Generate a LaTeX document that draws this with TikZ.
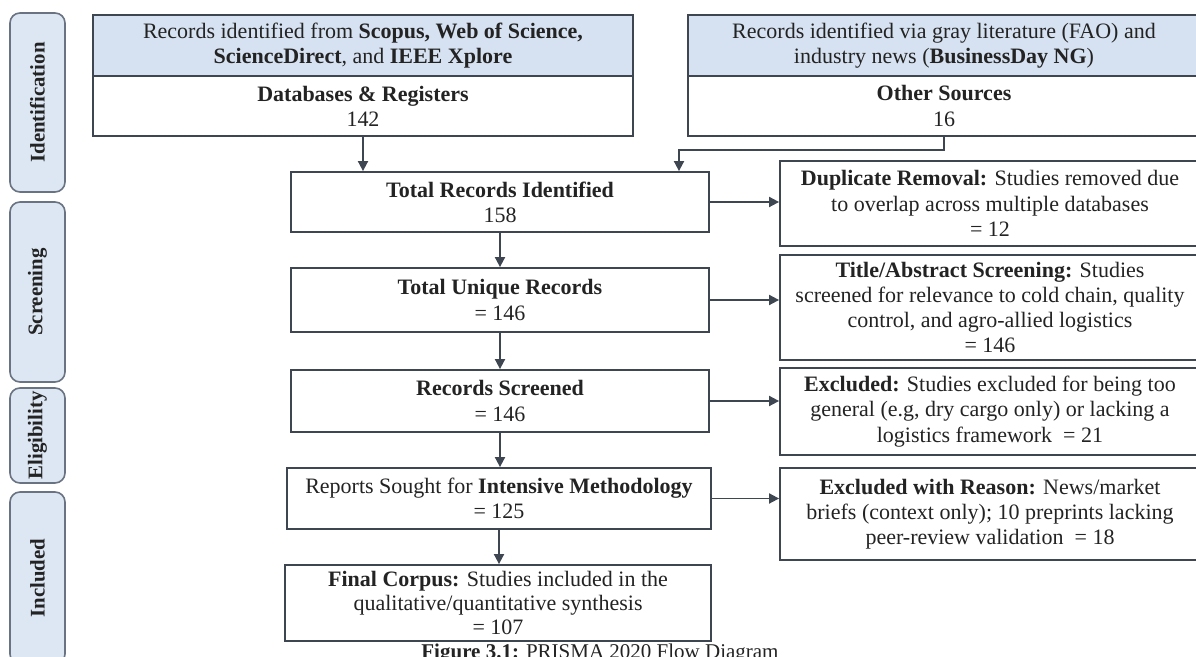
\documentclass[tikz,border=0pt]{standalone}
\usepackage{fontspec}
\setmainfont{Liberation Serif}
\usetikzlibrary{arrows.meta}

\definecolor{tabfill}{RGB}{221,231,243}
\definecolor{headfill}{RGB}{214,226,241}
\definecolor{boxline}{RGB}{62,70,82}
\definecolor{tabline}{RGB}{105,115,130}
\definecolor{inktext}{RGB}{35,35,35}

\begin{document}
\begin{tikzpicture}[x=0.5pt,y=0.5pt,yscale=-1,
  box/.style={draw=boxline,line width=0.9pt,fill=white,inner sep=0pt,align=center,text=inktext,font=\fontsize{11}{12.6}\selectfont},
  headbox/.style={box,fill=headfill},
  phase/.style={draw=tabline,line width=0.8pt,fill=tabfill,rounded corners=5pt,rotate=90,inner sep=0pt,text=inktext,font=\fontsize{10.4}{12}\selectfont\bfseries},
  arr/.style={draw=boxline,line width=0.9pt,-{Triangle[length=5pt,width=5pt]}}]
%set diagram frame: 1196 x 657
\useasboundingbox (0,0) rectangle (1196,657);
\clip (0,0) rectangle (1196,657);

%Phase tabs
\node[phase,minimum width=89.5pt,minimum height=27.5pt] (tabid) at (37.5,102.5) {Identification};
\node[phase,minimum width=90pt,minimum height=27.5pt] (tabscr) at (37.5,292) {Screening};
\node[phase,minimum width=47.5pt,minimum height=27.5pt] (tabelig) at (37.5,435.5) {Eligibility};
\node[phase,minimum width=86pt,minimum height=27.5pt] (tabincl) at (37.5,578) {Included};

%Sources
\node[headbox,minimum width=270pt,minimum height=30.5pt] (dbhead) at (363,45.5) {Records identified from \textbf{Scopus, Web of Science,}\\\textbf{ScienceDirect}, and \textbf{IEEE Xplore}};
\node[box,minimum width=270pt,minimum height=30pt] (dbbody) at (363,106) {\textbf{Databases \& Registers}\\142};
\node[headbox,minimum width=256pt,minimum height=30.5pt] (othhead) at (944,45.5) {Records identified via gray literature (FAO) and\\industry news (\textbf{BusinessDay NG})};
\node[box,minimum width=256pt,minimum height=30pt] (othbody) at (944,106) {\textbf{Other Sources}\\16};

%Main column
\node[box,minimum width=209pt,minimum height=30pt] (total) at (500,202) {\textbf{Total Records Identified}\\158};
\node[box,minimum width=209pt,minimum height=32pt] (uniq) at (500,300) {\textbf{Total Unique Records}\\= 146};
\node[box,minimum width=209pt,minimum height=31pt] (screened) at (500,401) {\textbf{Records Screened}\\= 146};
\node[box,minimum width=212pt,minimum height=30.5pt] (reports) at (499,498.5) {Reports Sought for \textbf{Intensive Methodology}\\= 125};
\node[box,minimum width=213pt,minimum height=38pt,font=\fontsize{11}{11.8}\selectfont] (corpus) at (498,603) {\textbf{Final Corpus:} Studies included in the\\qualitative/quantitative synthesis\\= 107};

%Side column
\node[box,minimum width=210pt,minimum height=42.5pt] (dup) at (990,203.5) {\textbf{Duplicate Removal:} Studies removed due\\to overlap across multiple databases\\= 12};
\node[box,minimum width=210pt,minimum height=52.5pt] (tiab) at (990,307.5) {\textbf{Title/Abstract Screening:} Studies\\screened for relevance to cold chain, quality\\control, and agro-allied logistics\\= 146};
\node[box,minimum width=210pt,minimum height=43.5pt] (excl) at (990,411.5) {\textbf{Excluded:} Studies excluded for being too\\general (e.g, dry cargo only) or lacking a\\logistics framework~ = 21};
\node[box,minimum width=210pt,minimum height=46pt] (exclr) at (990,514) {\textbf{Excluded with Reason:} News/market\\briefs (context only); 10 preprints lacking\\peer-review validation~ = 18};

%Caption
\node[anchor=base,inner sep=0pt,text=inktext,font=\fontsize{10.5}{12}\selectfont] (caption) at (600,659) {\textbf{Figure 3.1:} PRISMA 2020 Flow Diagram};

%Arrows
\coordinate (elbow) at (679,150);
\draw[arr] (dbbody.south) -- (dbbody.south |- total.north);
\draw[arr] (othbody.south) |- (elbow) -- (elbow |- total.north);
\draw[arr] (total.south) -- (total.south |- uniq.north);
\draw[arr] (uniq.south) -- (uniq.south |- screened.north);
\draw[arr] (screened.south) -- (screened.south |- reports.north);
\draw[arr] (reports.south) -- (reports.south |- corpus.north);
\draw[arr] (total.east) -- (total.east -| dup.west);
\draw[arr] (uniq.east) -- (uniq.east -| tiab.west);
\draw[arr] (screened.east) -- (screened.east -| excl.west);
\draw[arr] (reports.east) -- (reports.east -| exclr.west);

\end{tikzpicture}
\end{document}
